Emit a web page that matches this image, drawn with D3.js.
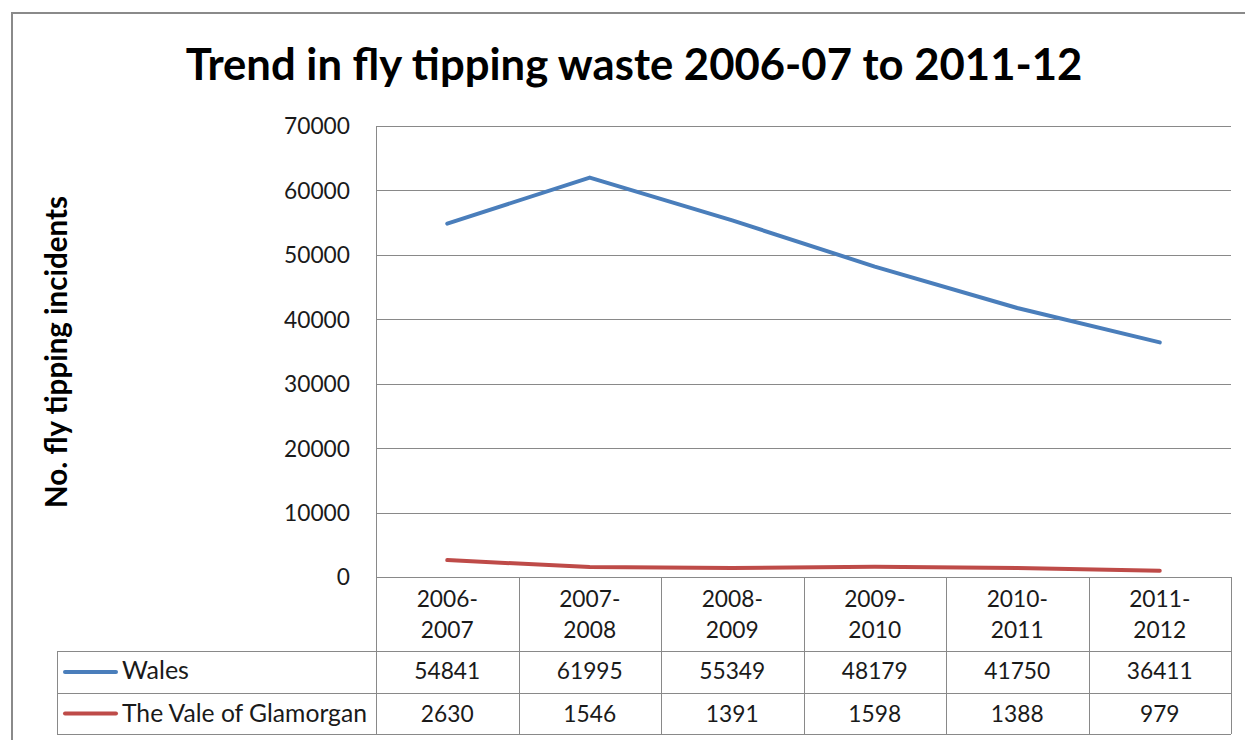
<!DOCTYPE html>
<html>
<head>
<meta charset="utf-8">
<script src="https://cdn.jsdelivr.net/npm/d3@7"></script>
<style>
  html, body { margin: 0; padding: 0; background: #fff; }
  svg { display: block; }
  text { font-family: Lato, "Open Sans", sans-serif; fill: #1a1a1a; }
</style>
</head>
<body>
<svg id="chart" width="1245" height="740"></svg>
<script>
// Financial years shown along the category axis
const categories = ["2006-2007", "2007-2008", "2008-2009", "2009-2010", "2010-2011", "2011-2012"];
// Fly tipping incidents per year
const walesValues = [54841, 61995, 55349, 48179, 41750, 36411];
const valeValues = [2630, 1546, 1391, 1598, 1388, 979];
const seriesNames = ["Wales", "The Vale of Glamorgan"];
const seriesColors = ["#4A7EBB", "#BE4B48"];
const yTicks = [0, 10000, 20000, 30000, 40000, 50000, 60000, 70000];

const series = [
  { name: seriesNames[0], color: seriesColors[0], values: walesValues },
  { name: seriesNames[1], color: seriesColors[1], values: valeValues }
];

const svg = d3.select("#chart");
const grid = "#898989";

// plot and table geometry
const plot = { left: 376, right: 1231, top: 126, bottom: 577 };
const rowTops = [577, 651, 693, 734];
const legendLeft = 57;

const x = d3.scaleBand().domain(categories).range([plot.left, plot.right]).padding(0);
const y = d3.scaleLinear().domain([0, 70000]).range([plot.bottom, plot.top]);

// scale a text element's font size so it spans the given width
function fitWidth(sel, base, width) {
  sel.style("font-size", base + "px");
  const w = sel.node().getComputedTextLength();
  const size = base * width / w;
  sel.style("font-size", size.toFixed(2) + "px");
  return size;
}

// body font size chosen so a five-digit number is about 66px wide
const probe = svg.append("text").text("54841");
const bodySize = fitWidth(probe, 22, 66);
probe.remove();

// outer chart frame
svg.append("rect")
  .attr("x", 12).attr("y", 13).attr("width", 1300).attr("height", 800)
  .attr("fill", "none").attr("stroke", "#8a8a8a").attr("stroke-width", 2);

// title
const title = svg.append("text")
  .attr("x", 634).attr("y", 80)
  .attr("text-anchor", "middle")
  .style("font-weight", "bold")
  .style("fill", "#000")
  .text("Trend in fly tipping waste 2006-07 to 2011-12");
fitWidth(title, 44, 897);

// y axis title
const yTitle = svg.append("text")
  .attr("transform", "translate(67,352) rotate(-90)")
  .attr("text-anchor", "middle")
  .style("font-weight", "bold")
  .style("fill", "#000")
  .text("No. fly tipping incidents");
fitWidth(yTitle, 24, 312);

// horizontal gridlines
svg.append("g").selectAll("line").data(yTicks.filter(d => d > 0)).join("line")
  .attr("x1", plot.left).attr("x2", plot.right)
  .attr("y1", d => Math.round(y(d)) + 0.5).attr("y2", d => Math.round(y(d)) + 0.5)
  .attr("stroke", grid).attr("stroke-width", 1);

// y axis labels
const yAxis = d3.axisLeft(y).tickValues(yTicks).tickSize(0).tickPadding(26).tickFormat(d3.format("d"));
const yg = svg.append("g").attr("transform", `translate(${plot.left},0)`).call(yAxis);
yg.select(".domain").remove();
yg.selectAll("text")
  .style("font-family", "Lato, sans-serif")
  .style("font-size", bodySize + "px")
  .attr("fill", "#1a1a1a")
  .attr("dy", "0.35em");

// data table: horizontal rules
const tableLines = svg.append("g").attr("stroke", grid).attr("stroke-width", 1);
tableLines.append("line")
  .attr("x1", plot.left).attr("x2", plot.right)
  .attr("y1", rowTops[0] + 0.5).attr("y2", rowTops[0] + 0.5);
rowTops.slice(1).forEach(t => {
  tableLines.append("line")
    .attr("x1", legendLeft).attr("x2", plot.right)
    .attr("y1", t + 0.5).attr("y2", t + 0.5);
});
// vertical axis line and column separators
tableLines.append("line")
  .attr("x1", plot.left + 0.5).attr("x2", plot.left + 0.5)
  .attr("y1", plot.top).attr("y2", rowTops[3]);
categories.forEach(c => {
  const xr = Math.round(x(c) + x.bandwidth()) + 0.5;
  tableLines.append("line")
    .attr("x1", xr).attr("x2", xr)
    .attr("y1", rowTops[0]).attr("y2", rowTops[3]);
});
tableLines.append("line")
  .attr("x1", legendLeft + 0.5).attr("x2", legendLeft + 0.5)
  .attr("y1", rowTops[1]).attr("y2", rowTops[3]);

// category labels in the header row, wrapped after the hyphen
const catG = svg.append("g").attr("text-anchor", "middle").style("font-size", bodySize + "px");
categories.forEach(c => {
  const parts = c.split("-");
  const cx = x(c) + x.bandwidth() / 2;
  catG.append("text").attr("x", cx).attr("y", 607).text(parts[0] + "-");
  catG.append("text").attr("x", cx).attr("y", 638).text(parts[1]);
});

// value rows and legend keys
const rowBaselines = [679, 722];
const legendWidths = [67, 245];
series.forEach((s, i) => {
  svg.append("g").attr("text-anchor", "middle").style("font-size", bodySize + "px")
    .selectAll("text").data(s.values).join("text")
    .attr("x", (d, j) => x(categories[j]) + x.bandwidth() / 2)
    .attr("y", rowBaselines[i])
    .text(d => d);
  const ly = (rowTops[i + 1] + rowTops[i + 2]) / 2;
  svg.append("line")
    .attr("x1", 65).attr("x2", 116).attr("y1", ly).attr("y2", ly)
    .attr("stroke", s.color).attr("stroke-width", 4).attr("stroke-linecap", "round");
  const lt = svg.append("text")
    .attr("x", 122).attr("y", rowBaselines[i])
    .text(s.name);
  fitWidth(lt, 22, legendWidths[i]);
});

// series lines
const line = d3.line()
  .x((d, j) => x(categories[j]) + x.bandwidth() / 2)
  .y(d => y(d));
series.forEach(s => {
  svg.append("path")
    .datum(s.values)
    .attr("d", line)
    .attr("fill", "none")
    .attr("stroke", s.color)
    .attr("stroke-width", 4)
    .attr("stroke-linecap", "round")
    .attr("stroke-linejoin", "round");
});
</script>
</body>
</html>
